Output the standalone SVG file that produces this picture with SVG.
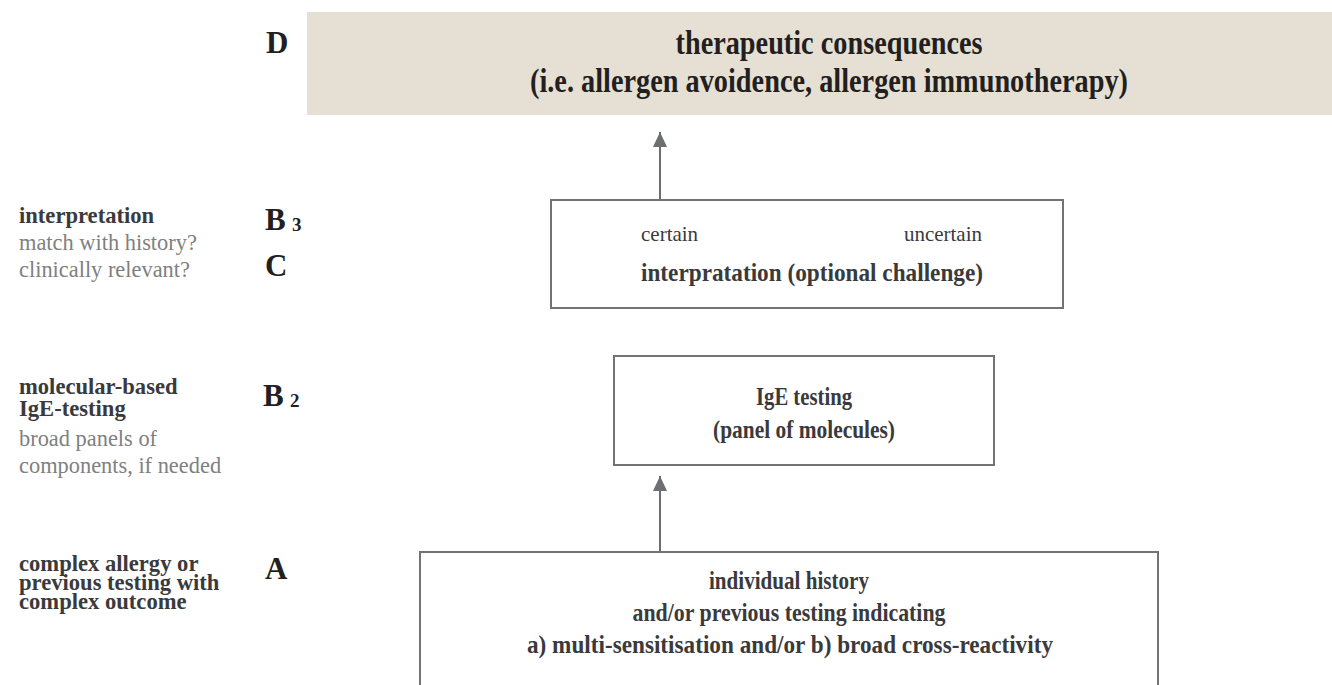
<svg xmlns="http://www.w3.org/2000/svg" width="1332" height="685" viewBox="0 0 1332 685">
<defs>
<style>
.box{fill:#ffffff;stroke:#727376;stroke-width:2}
.band{fill:#e6e0d4;stroke:none}
.conn{stroke:#6d6e71;stroke-width:2;fill:none}
.big{font-family:"Liberation Serif","Times New Roman",serif;font-weight:bold;font-size:31px;fill:#231f20}
.sub{font-family:"Liberation Serif","Times New Roman",serif;font-weight:bold;font-size:19px;fill:#231f20}
.lb{font-family:"Liberation Serif","Times New Roman",serif;font-weight:bold;font-size:22.6px;fill:#3a3a3c}
.lg{font-family:"Liberation Serif","Times New Roman",serif;font-size:22.4px;fill:#808080}
.bt{font-family:"Liberation Serif","Times New Roman",serif;font-weight:bold;font-size:25px;fill:#3a3a3c;text-anchor:middle}
.rt{font-family:"Liberation Serif","Times New Roman",serif;font-size:21px;fill:#3a3a3c}
.tt{font-family:"Liberation Serif","Times New Roman",serif;font-weight:bold;font-size:34px;fill:#231f20;text-anchor:middle}
</style>
<marker id="ah" viewBox="0 0 15 14" refX="15" refY="7" markerWidth="15" markerHeight="14" markerUnits="userSpaceOnUse" orient="auto">
<path d="M0,0 L15,7 L0,14 z" fill="#6d6e71"/>
</marker>
</defs>

<g id="labels">
<text class="big" x="266" y="53">D</text>
<text class="big" x="265" y="230">B</text><text class="sub" x="292" y="231">3</text>
<text class="big" x="265" y="276">C</text>
<text class="big" x="263" y="406">B</text><text class="sub" x="290" y="407">2</text>
<text class="big" x="265" y="579">A</text>
</g>

<g id="side-interpretation">
<text class="lb" x="19" y="223">interpretation</text>
<text class="lg" x="19" y="250">match with history?</text>
<text class="lg" x="19" y="277">clinically relevant?</text>
</g>

<g id="side-molecular">
<text class="lb" x="19" y="394">molecular-based</text>
<text class="lb" x="19" y="416">IgE-testing</text>
<text class="lg" x="19" y="446">broad panels of</text>
<text class="lg" x="19" y="473">components, if needed</text>
</g>

<g id="side-complex">
<text class="lb" x="19" y="571">complex allergy or</text>
<text class="lb" x="19" y="590">previous testing with</text>
<text class="lb" x="19" y="609">complex outcome</text>
</g>

<g id="node-D">
<rect class="band" x="307" y="12" width="1025" height="103"/>
<text class="tt" x="829" y="54" textLength="307" lengthAdjust="spacingAndGlyphs">therapeutic consequences</text>
<text class="tt" x="829" y="92" textLength="598" lengthAdjust="spacingAndGlyphs">(i.e. allergen avoidence, allergen immunotherapy)</text>
</g>

<g id="node-interpretation">
<rect class="box" x="551" y="200" width="512" height="108"/>
<text class="rt" x="641" y="241">certain</text>
<text class="rt" x="982" y="241" text-anchor="end">uncertain</text>
<text class="bt" x="812" y="281" textLength="342" lengthAdjust="spacingAndGlyphs">interpratation (optional challenge)</text>
</g>

<g id="node-ige">
<rect class="box" x="614" y="356" width="380" height="109"/>
<text class="bt" x="804" y="405" textLength="96" lengthAdjust="spacingAndGlyphs">IgE testing</text>
<text class="bt" x="804" y="438" textLength="182" lengthAdjust="spacingAndGlyphs">(panel of molecules)</text>
</g>

<g id="node-history">
<rect class="box" x="420" y="552" width="738" height="150"/>
<text class="bt" x="789" y="589" textLength="160" lengthAdjust="spacingAndGlyphs">individual history</text>
<text class="bt" x="789" y="621" textLength="313" lengthAdjust="spacingAndGlyphs">and/or previous testing indicating</text>
<text class="bt" x="790" y="653" textLength="526" lengthAdjust="spacingAndGlyphs">a) multi-sensitisation and/or b) broad cross-reactivity</text>
</g>

<g id="connectors">
<line class="conn" x1="660" y1="551" x2="660" y2="476" marker-end="url(#ah)"/>
<line class="conn" x1="660" y1="199" x2="660" y2="132" marker-end="url(#ah)"/>
</g>
</svg>
